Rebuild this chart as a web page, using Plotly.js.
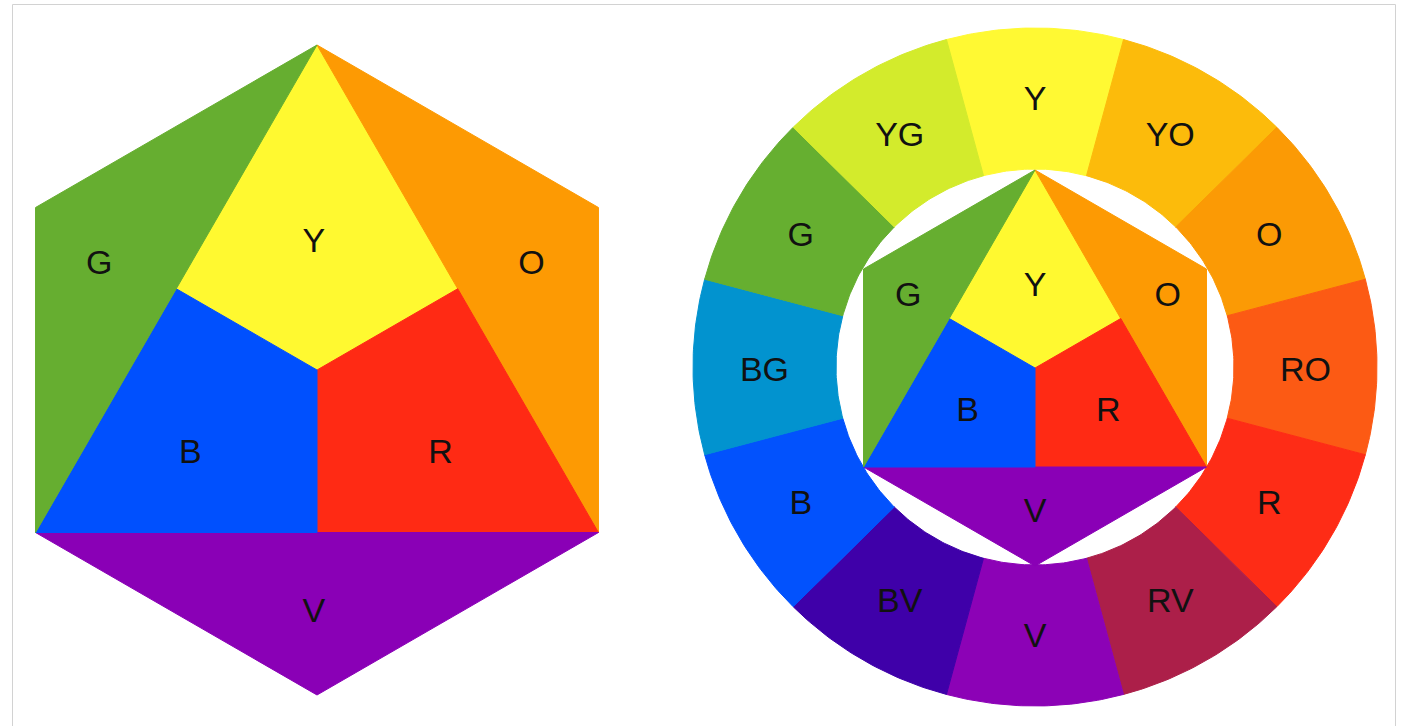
<!DOCTYPE html>
<html><head><meta charset="utf-8">
<script src="https://cdn.plot.ly/plotly-3.0.1.min.js"></script>
<style>html,body{margin:0;padding:0;background:#fff;} #chart{width:1402px;height:726px;}</style>
</head><body><div id="chart"></div>
<script>
// ---- data ----
const ringLabels = ['Y','YO','O','RO','R','RV','V','BV','B','BG','G','YG'];
const ringColors = ['#fff933','#fcbb0b','#fb9a05','#fc5a14','#fe2c16','#ac1f49','#8c02b6','#3f00a9','#0252fd','#0293cf','#66af30','#d3eb2c'];
const hexLabels = ['Y','O','R','V','B','G'];
const hexColors = ['#fff930','#fd9a03','#ff2a14','#8a00b6','#0050fe','#66ae30'];

// ---- geometry (pixel space) ----
const W = 1402, H = 726;
const textShift = 3;
const leftHex  = {cx:317, cy:370, r:325,
  lab:{Y:[-0.01,-0.40], O:[0.66,-0.33], R:[0.38,0.25], V:[-0.01,0.74], B:[-0.39,0.25], G:[-0.67,-0.33]}};
const innerHex = {cx:1035, cy:368, r:198,
  lab:{Y:[0.0,-0.42], O:[0.67,-0.37], R:[0.37,0.21], V:[0.0,0.72], B:[-0.34,0.21], G:[-0.64,-0.37]}};
const ring = {cx:1035, cy:367, rxIn:199, ryIn:198, rxOut:342, ryOut:339};

function hexRegions(h){
  const k = Math.cos(Math.PI/6);
  const P = (u,v)=>[h.cx+u*h.r, h.cy+v*h.r];
  const v0=P(0,-1), v1=P(k,-0.5), v2=P(k,0.5), v3=P(0,1), v4=P(-k,0.5), v5=P(-k,-0.5);
  const C=P(0,0), M1=P(-k/2,-0.25), M2=P(k/2,-0.25), Pm=P(0,0.5);
  return {Y:[v0,M2,C,M1], O:[v0,v1,v2], R:[C,M2,v2,Pm], V:[v4,v2,v3], B:[M1,C,Pm,v4], G:[v0,v4,v5]};
}

const traces = [];
const txtX = [], txtY = [], txt = [];

function polyTrace(pts, color){
  const xs = pts.map(p=>p[0]), ys = pts.map(p=>p[1]);
  xs.push(pts[0][0]); ys.push(pts[0][1]);
  return {type:'scatter', mode:'lines', x:xs, y:ys, fill:'toself', fillcolor:color,
          line:{color:color, width:1}, hoverinfo:'skip'};
}

function addHex(h){
  const reg = hexRegions(h);
  hexLabels.forEach((lab,i)=>{
    traces.push(polyTrace(reg[lab], hexColors[i]));
    txtX.push(h.cx + h.lab[lab][0]*h.r);
    txtY.push(h.cy + h.lab[lab][1]*h.r + textShift);
    txt.push(lab);
  });
}

addHex(leftHex);

// ring segments
const n = ringLabels.length, step = 360/n;
ringLabels.forEach((lab,i)=>{
  const mid = 90 - step*i;
  const a0 = mid + step/2, a1 = mid - step/2;
  const pts = [];
  const N = 40;
  for(let j=0;j<=N;j++){
    const a = (a0 + (a1-a0)*j/N)*Math.PI/180;
    pts.push([ring.cx + ring.rxOut*Math.cos(a), ring.cy - ring.ryOut*Math.sin(a)]);
  }
  for(let j=N;j>=0;j--){
    const a = (a0 + (a1-a0)*j/N)*Math.PI/180;
    pts.push([ring.cx + ring.rxIn*Math.cos(a), ring.cy - ring.ryIn*Math.sin(a)]);
  }
  traces.push(polyTrace(pts, ringColors[i]));
  const am = mid*Math.PI/180;
  txtX.push(ring.cx + (ring.rxIn+ring.rxOut)/2*Math.cos(am));
  txtY.push(ring.cy - (ring.ryIn+ring.ryOut)/2*Math.sin(am) + textShift + 2*Math.cos(am)*Math.cos(am));
  txt.push(lab);
});

addHex(innerHex);

traces.push({type:'scatter', mode:'text', x:txtX, y:txtY, text:txt, textposition:'middle center',
  textfont:{family:'"Liberation Sans", Arial, sans-serif', size:34, color:'#111111'}, hoverinfo:'skip'});

const layout = {
  width:W, height:H, margin:{l:0,r:0,t:0,b:0}, showlegend:false,
  paper_bgcolor:'#ffffff', plot_bgcolor:'#ffffff',
  xaxis:{range:[0,W], visible:false, showgrid:false, zeroline:false, fixedrange:true},
  yaxis:{range:[H,0], visible:false, showgrid:false, zeroline:false, fixedrange:true},
  shapes:[{type:'rect', xref:'x', yref:'y', x0:12.5, y0:4.5, x1:1395.5, y1:760,
           line:{color:'#d2d2d2', width:1}, fillcolor:'rgba(0,0,0,0)', layer:'below'}]
};
Plotly.newPlot('chart', traces, layout, {staticPlot:true, displayModeBar:false});
</script>
</body></html>
